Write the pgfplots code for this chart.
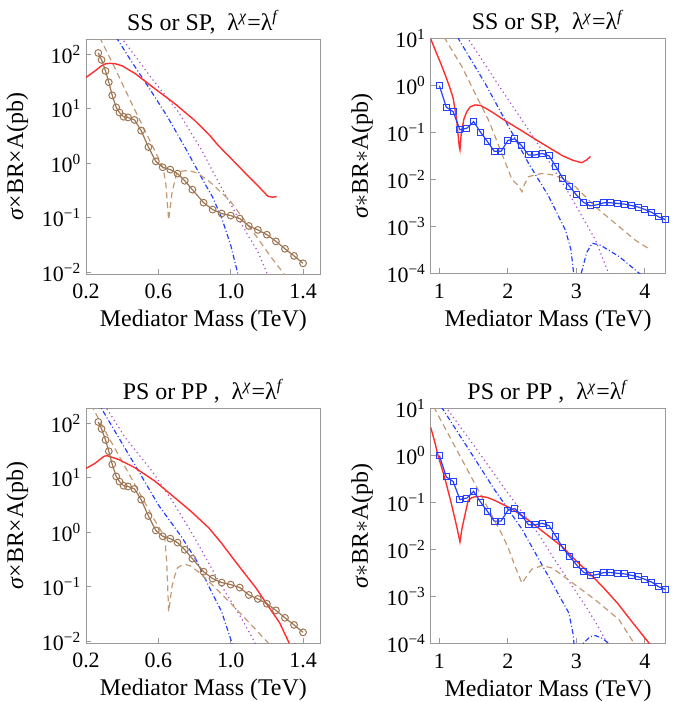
\documentclass[border=0pt]{standalone}
\usepackage{fontspec}
\setmainfont{Liberation Serif}
\usepackage{pgfplots}
\pgfplotsset{compat=1.18}

\definecolor{redc}{rgb}{1,0.18,0.18}
\definecolor{brownc}{rgb}{0.62,0.46,0.32}
\definecolor{tanc}{rgb}{0.76,0.6,0.45}
\definecolor{bluec}{rgb}{0.15,0.25,1}
\definecolor{purplec}{rgb}{0.66,0.3,0.78}
\definecolor{framec}{rgb}{0.6,0.6,0.6}

\pgfplotsset{
  panel/.style={
    scale only axis, width=117.4bp, height=117.3bp,
    anchor=south west,
    axis line style={framec, line width=0.5bp},
    tick style={framec, line width=0.5bp},
    tick align=inside, major tick length=2.5bp,
    xtick pos=bottom, ytick pos=left,
    xminorticks=false, yminorticks=false,
    tick label style={font=\fontsize{11}{13}\selectfont},
    xticklabel style={inner sep=0pt, yshift=-5bp},
    yticklabel style={inner sep=0pt, xshift=-2.2bp},
    label style={font=\fontsize{12}{14}\selectfont},
    every axis title shift=0pt,
    title style={font=\fontsize{12}{14}\selectfont, at={(axis description cs:0.5,1.038)}, anchor=base, yshift=0pt, inner sep=0pt},
    xlabel style={at={(axis description cs:0.5,-0.2255)}, anchor=base, inner sep=0pt},
    ylabel style={at={(axis description cs:-0.268,0.5)}, anchor=base, inner sep=0pt},
    xlabel={Mediator Mass (TeV)},
    every axis plot/.append style={line width=0.6bp},
  },
  lowpanel/.style={panel, xmin=0.2, xmax=1.498, ymin=0.0093, ymax=190,
    xtick={0.2,0.6,1.0,1.4}, xticklabels={0.2,0.6,1.0,1.4},
    ytick={0.01,0.1,1,10,100},
    yticklabels={10\textsuperscript{−2},10\textsuperscript{−1},10\textsuperscript{0},10\textsuperscript{1},10\textsuperscript{2}},
    ylabel={\textit{σ}×BR×A(pb)}},
  highpanel/.style={panel, xmin=0.873, xmax=4.30, ymin=1e-4, ymax=10,
    xtick={1,2,3,4}, xticklabels={1,2,3,4},
    ytick={1e-4,1e-3,1e-2,1e-1,1,10},
    yticklabels={10\textsuperscript{−4},10\textsuperscript{−3},10\textsuperscript{−2},10\textsuperscript{−1},10\textsuperscript{0},10\textsuperscript{1}},
    ylabel={\textit{σ}$\ast$BR$\ast$A(pb)}},
  redline/.style={redc, line width=0.7bp},
  tanline/.style={tanc, dash pattern=on 3bp off 2bp},
  blueline/.style={bluec, dash pattern=on 2.5bp off 1.2bp on 0.5bp off 1.2bp},
  purpleline/.style={purplec, dash pattern=on 0.6bp off 1.6bp},
  circles/.style={brownc, mark=o, mark size=1.7bp, mark options={solid, line width=0.5bp}},
  squares/.style={bluec, mark=square, mark size=1.5bp, mark options={solid, line width=0.5bp}},
}

\begin{document}
\begin{tikzpicture}
\useasboundingbox (0,0) rectangle (337.5bp,-351bp);

% ---------- top left ----------
\begin{axis}[ymode=log, lowpanel, at={(43bp,-137bp)},
  title={SS or SP,\ \ λ\textsuperscript{\textit{χ}}=λ\textsuperscript{\textit{f}}}]
\addplot[purpleline] coordinates {(0.395,209)(0.40,195)(0.564,36.3)(0.71,8.9)(0.84,1.74)(0.922,0.525)(1.013,0.148)(1.095,0.0479)(1.15,0.024)(1.196,0.0105)(1.205,0.0087)};
\addplot[blueline] coordinates {(0.365,209)(0.372,195)(0.45,75.9)(0.55,24)(0.65,7.24)(0.75,1.9)(0.85,0.468)(0.90,0.24)(0.95,0.1)(1.0,0.0316)(1.045,0.0079)};
\addplot[tanline] coordinates {(0.275,209)(0.281,190)(0.35,66)(0.45,13.2)(0.55,2.75)(0.60,1.26)(0.627,0.81)(0.642,0.40)(0.657,0.091)(0.675,0.28)(0.70,0.65)(0.73,0.72)(0.76,0.74)(0.79,0.71)(0.821,0.65)(0.885,0.457)(0.995,0.209)(1.068,0.098)(1.15,0.042)(1.223,0.019)(1.29,0.0098)(1.30,0.0087)};
\addplot[redline] coordinates {(0.2,38)(0.25,50)(0.285,62)(0.308,67.6)(0.335,69)(0.363,67.6)(0.40,62)(0.472,44.7)(0.582,23.4)(0.69,12.6)(0.80,6.2)(0.883,3.3)(0.931,2.14)(1.00,1.25)(1.10,0.57)(1.16,0.36)(1.205,0.25)(1.23,0.24)(1.254,0.245)};
\addplot[circles] coordinates {(0.268,107)(0.286,80)(0.308,50)(0.326,31)(0.345,17.8)(0.367,10.7)(0.385,8.6)(0.408,7.2)(0.432,7.0)(0.468,6.3)(0.505,4.0)(0.545,2.0)(0.586,1.09)(0.624,0.85)(0.666,0.77)(0.706,0.65)(0.746,0.48)(0.788,0.33)(0.85,0.19)(0.90,0.142)(0.95,0.12)(1.00,0.11)(1.05,0.097)(1.10,0.071)(1.15,0.060)(1.20,0.049)(1.25,0.037)(1.30,0.027)(1.35,0.020)(1.40,0.0146)};
\end{axis}

% ---------- top right ----------
\begin{axis}[ymode=log, highpanel, at={(215.35bp,-136.7bp)},
  title={SS or SP,\ \ λ\textsuperscript{\textit{χ}}=λ\textsuperscript{\textit{f}}}]
\addplot[purpleline] coordinates {(1.40,11.2)(1.42,10)(1.91,0.81)(2.40,0.07)(2.89,0.0051)(3.28,5.1e-4)(3.47,1e-4)(3.50,7.9e-5)};
\addplot[blueline] coordinates {(1.27,11)(1.278,10)(1.668,1.12)(2.01,0.135)(2.30,0.0224)(2.595,0.0044)(2.84,8.3e-4)(2.92,3.2e-4)(2.96,1e-4)(2.99,1e-6)(3.03,1e-5)(3.07,1e-4)(3.15,2.8e-4)(3.23,4.4e-4)(3.35,4e-4)(3.62,2.3e-4)(3.92,1e-4)(3.95,9e-5)};
\addplot[tanline] coordinates {(1.07,11)(1.083,10)(1.327,2.57)(1.52,0.69)(1.717,0.186)(1.91,0.036)(2.06,0.01)(2.15,0.0075)(2.205,0.0055)(2.24,0.0078)(2.30,0.0115)(2.40,0.0126)(2.50,0.0135)(2.65,0.0126)(2.80,0.0107)(2.985,0.0071)(3.28,0.0026)(3.62,0.001)(3.86,0.00051)(4.08,0.00032)};
\addplot[redline] coordinates {(0.873,10)(0.95,5.25)(1.03,2.75)(1.10,1.48)(1.15,0.93)(1.20,0.55)(1.25,0.2)(1.29,0.05)(1.30,0.043)(1.32,0.1)(1.36,0.2)(1.40,0.28)(1.45,0.355)(1.52,0.39)(1.60,0.38)(1.70,0.316)(1.80,0.257)(1.91,0.2)(2.0,0.166)(2.2,0.11)(2.4,0.072)(2.6,0.048)(2.8,0.032)(2.95,0.0257)(3.08,0.0229)(3.15,0.0263)(3.205,0.031)};
\addplot[squares] coordinates {(1.0,1.0)(1.1,0.35)(1.2,0.28)(1.3,0.115)(1.4,0.124)(1.5,0.172)(1.6,0.102)(1.7,0.065)(1.8,0.040)(1.9,0.040)(2.0,0.068)(2.1,0.074)(2.2,0.053)(2.3,0.0335)(2.4,0.0335)(2.5,0.036)(2.6,0.032)(2.7,0.019)(2.8,0.0107)(2.9,0.0071)(3.0,0.0047)(3.1,0.0033)(3.2,0.00275)(3.3,0.0029)(3.4,0.0032)(3.5,0.0032)(3.6,0.0031)(3.7,0.0030)(3.8,0.0028)(3.9,0.0026)(4.0,0.0023)(4.1,0.0020)(4.2,0.0016)(4.3,0.0014)};
\end{axis}

% ---------- bottom left ----------
\begin{axis}[ymode=log, lowpanel, at={(43bp,-321.5bp)},
  title={PS or PP ,\ \ λ\textsuperscript{\textit{χ}}=λ\textsuperscript{\textit{f}}}]
\addplot[purpleline] coordinates {(0.29,257)(0.299,229)(0.417,55)(0.564,13.5)(0.673,4.0)(0.783,1.0)(0.821,0.60)(0.94,0.117)(1.05,0.030)(1.13,0.01)(1.14,0.0083)};
\addplot[blueline] coordinates {(0.265,251)(0.271,229)(0.381,55)(0.49,13.5)(0.60,3.2)(0.728,0.83)(0.812,0.30)(0.885,0.093)(0.949,0.0355)(1.004,0.01)(1.01,0.0083)};
\addplot[tanline] coordinates {(0.228,224)(0.235,200)(0.3,79)(0.4,20)(0.5,5.0)(0.58,1.66)(0.62,1.0)(0.635,0.8)(0.646,0.3)(0.657,0.035)(0.675,0.1)(0.69,0.158)(0.706,0.224)(0.73,0.25)(0.752,0.257)(0.78,0.24)(0.82,0.19)(0.907,0.102)(1.0,0.05)(1.1,0.0224)(1.208,0.0093)};
\addplot[redline] coordinates {(0.2,15)(0.25,18.6)(0.30,25.1)(0.317,25.7)(0.38,21.9)(0.47,15.5)(0.58,8.8)(0.69,4.37)(0.78,2.45)(0.88,1.2)(0.95,0.63)(1.03,0.28)(1.14,0.095)(1.20,0.048)(1.27,0.022)(1.323,0.0093)};
\addplot[circles] coordinates {(0.268,107)(0.286,80)(0.308,50)(0.326,31)(0.345,17.8)(0.367,10.7)(0.385,8.6)(0.408,7.2)(0.432,7.0)(0.468,6.3)(0.505,4.0)(0.545,2.0)(0.586,1.09)(0.624,0.85)(0.666,0.77)(0.706,0.65)(0.746,0.48)(0.788,0.33)(0.85,0.19)(0.90,0.142)(0.95,0.12)(1.00,0.11)(1.05,0.097)(1.10,0.071)(1.15,0.060)(1.20,0.049)(1.25,0.037)(1.30,0.027)(1.35,0.020)(1.40,0.0146)};
\end{axis}

% ---------- bottom right ----------
\begin{axis}[ymode=log, highpanel, at={(215.35bp,-321.6bp)},
  title={PS or PP ,\ \ λ\textsuperscript{\textit{χ}}=λ\textsuperscript{\textit{f}}}]
\addplot[purpleline] coordinates {(1.09,11.2)(1.10,10.5)(1.5,1.66)(2.0,0.158)(2.445,0.0214)(2.65,0.0071)(2.9,0.002)(3.13,6.3e-4)(3.3,2.5e-4)(3.45,1e-4)(3.48,8e-5)};
\addplot[blueline] coordinates {(1.03,11)(1.045,10)(1.42,1.41)(1.81,0.182)(2.205,0.027)(2.595,0.0026)(2.89,4.4e-4)(2.95,1.6e-4)(2.985,5e-5)(3.02,1e-6)(3.06,5e-5)(3.1,1e-4)(3.2,1.38e-4)(3.28,1.45e-4)(3.38,1.26e-4)(3.47,1e-4)(3.5,9e-5)};
\addplot[tanline] coordinates {(0.92,11)(0.93,10)(1.2,1.84)(1.5,0.28)(1.91,0.0214)(2.0,0.0112)(2.1,0.0045)(2.205,0.0019)(2.26,0.0025)(2.35,0.0038)(2.50,0.0045)(2.65,0.004)(2.89,0.0022)(3.28,8.3e-4)(3.62,3.2e-4)(3.84,1e-4)(3.87,8e-5)};
\addplot[redline] coordinates {(0.873,3.98)(0.93,2.0)(0.98,1.0)(1.03,0.575)(1.08,0.324)(1.13,0.17)(1.18,0.087)(1.25,0.032)(1.30,0.0145)(1.33,0.028)(1.37,0.052)(1.42,0.11)(1.47,0.126)(1.52,0.132)(1.615,0.135)(1.71,0.126)(1.81,0.11)(2.05,0.074)(2.30,0.042)(2.52,0.0234)(2.8,0.0112)(3.0,0.0056)(3.2,0.0030)(3.4,0.0015)(3.6,7.1e-4)(3.8,3.0e-4)(4.06,1e-4)(4.12,8e-5)};
\addplot[squares] coordinates {(1.0,1.0)(1.1,0.35)(1.2,0.28)(1.3,0.115)(1.4,0.124)(1.5,0.172)(1.6,0.102)(1.7,0.065)(1.8,0.040)(1.9,0.040)(2.0,0.068)(2.1,0.074)(2.2,0.053)(2.3,0.0335)(2.4,0.0335)(2.5,0.036)(2.6,0.032)(2.7,0.019)(2.8,0.0107)(2.9,0.0071)(3.0,0.0047)(3.1,0.0033)(3.2,0.00275)(3.3,0.0029)(3.4,0.0032)(3.5,0.0032)(3.6,0.0031)(3.7,0.0030)(3.8,0.0028)(3.9,0.0026)(4.0,0.0023)(4.1,0.0020)(4.2,0.0016)(4.3,0.0014)};
\end{axis}
\end{tikzpicture}
\end{document}
